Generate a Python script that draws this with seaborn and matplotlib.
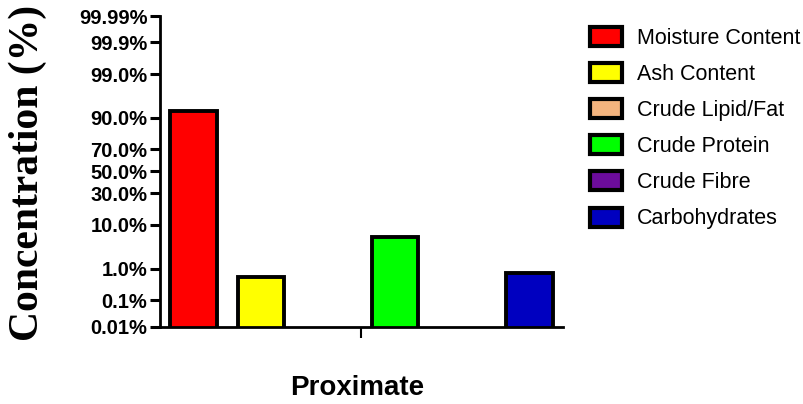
import numpy as np
import pandas as pd
import matplotlib
matplotlib.use("Agg")
import matplotlib.pyplot as plt
import seaborn as sns
from statistics import NormalDist

# Proximate composition (%)
components = ["Moisture Content", "Ash Content", "Crude Lipid/Fat",
              "Crude Protein", "Crude Fibre", "Carbohydrates"]
values = [92.5, 0.57, 0.0, 5.7, 0.0, 0.76]
colors = ["#FF0000", "#FFFF00", "#F4B47E", "#00FF00", "#6C0C9C", "#0000C0"]

tick_pct = [0.01, 0.1, 1.0, 10.0, 30.0, 50.0, 70.0, 90.0, 99.0, 99.9, 99.99]
tick_labels = ["0.01%", "0.1%", "1.0%", "10.0%", "30.0%", "50.0%",
               "70.0%", "90.0%", "99.0%", "99.9%", "99.99%"]

df = pd.DataFrame({"group": ["Proximate"] * len(components),
                   "component": components,
                   "value": values})

# probability (probit) axis, built from the standard normal
_nd = NormalDist()
_ppf = np.vectorize(lambda p: _nd.inv_cdf(min(max(p / 100.0, 1e-7), 1 - 1e-7)), otypes=[float])
_cdf = np.vectorize(lambda z: _nd.cdf(z) * 100.0, otypes=[float])

sns.set_style("white")
plt.rcParams["font.family"] = ["Liberation Sans", "DejaVu Sans"]
plt.rcParams["text.color"] = "black"
plt.rcParams["axes.labelcolor"] = "black"
plt.rcParams["xtick.color"] = "black"
plt.rcParams["ytick.color"] = "black"

fig = plt.figure(figsize=(8.04, 4.04), dpi=100)
ax = fig.add_axes([160 / 804, 1 - 326.7 / 404, 403 / 804, 310.7 / 404])

sns.barplot(data=df, x="group", y="value", hue="component", hue_order=components,
            palette=colors, width=0.8, gap=0.31, edgecolor="black", linewidth=2.8,
            saturation=1, ax=ax)

ax.set_yscale("function", functions=(_ppf, _cdf))
ax.set_ylim(0.01, 99.99)
ax.set_xlim(-0.4, 0.4)
ax.set_yticks(tick_pct)
ax.set_yticklabels(tick_labels, fontsize=14.5, fontweight="bold")
ax.minorticks_off()
ax.set_xticks([0])
ax.set_xticklabels([""])
ax.tick_params(axis="y", direction="out", length=7, width=2.2, color="black", pad=2, left=True)
ax.tick_params(axis="x", direction="out", length=8, width=1.5, color="black", bottom=True)

for side in ["top", "right"]:
    ax.spines[side].set_visible(False)
for side in ["left", "bottom"]:
    ax.spines[side].set_color("black")
    ax.spines[side].set_linewidth(2)

ax.set_ylabel("Concentration (%)", fontsize=30, fontweight="bold",
              family=["Liberation Serif", "DejaVu Serif"], va="center")
ax.yaxis.set_label_coords(-0.3275, 0.496)
ax.set_xlabel("Proximate", fontsize=20, fontweight="bold")
ax.xaxis.set_label_coords(0.49, -0.155)

handles, labels = ax.get_legend_handles_labels()
leg = ax.legend(handles, labels, loc="upper left", bbox_to_anchor=(1.045, 0.992),
                frameon=False, fontsize=15.5, handlelength=1.49, handleheight=0.98,
                handletextpad=0.7, labelspacing=0.66, borderaxespad=0)
for h in leg.legend_handles:
    h.set_edgecolor("black")
    h.set_linewidth(3)

fig.savefig("out.png", dpi=100)
